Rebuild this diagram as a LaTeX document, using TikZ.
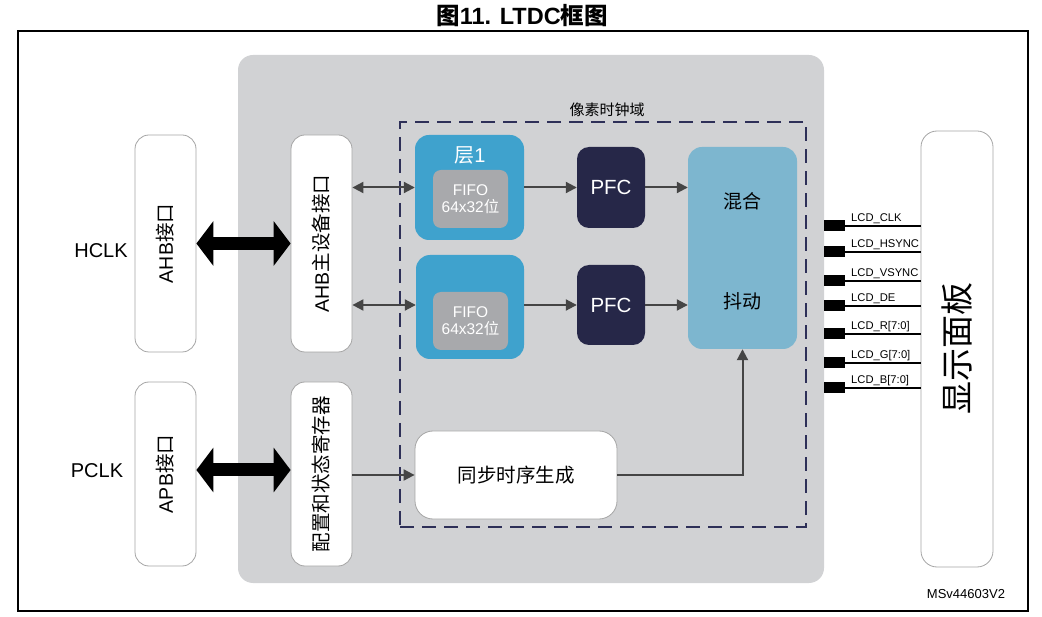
\documentclass[tikz,border=0pt]{standalone}
\usepackage{fontspec}
\setmainfont{Liberation Sans}
\newfontfamily\cjk{Noto Sans CJK SC}
\usetikzlibrary{arrows.meta}
\definecolor{bggray}{HTML}{D1D2D4}
\definecolor{navy}{HTML}{262748}
\definecolor{dashnavy}{HTML}{2E3058}
\definecolor{layblue}{HTML}{3FA2CD}
\definecolor{mixblue}{HTML}{7DB6CF}
\definecolor{fifogray}{HTML}{A8A9AC}
\definecolor{arrgray}{HTML}{454545}
\definecolor{bordergray}{HTML}{A5A5A5}
\newcommand{\fs}[1]{\fontsize{#1}{#1}\selectfont}
\tikzset{
  box/.style={draw=bordergray, line width=0.8, fill=white, rounded corners=14, inner sep=0},
  laybox/.style={fill=layblue, rounded corners=14, inner sep=0},
  fifobox/.style={fill=fifogray, rounded corners=8, inner sep=0, text=white, align=center, font=\fs{15.5}},
  pfcbox/.style={fill=navy, rounded corners=12, inner sep=0, text=white, font=\fs{20.5}},
  arr/.style={draw=arrgray, line width=2, -{Triangle[length=11,width=11]}},
  darr/.style={draw=arrgray, line width=2, {Triangle[length=11,width=11]}-{Triangle[length=11,width=11]}},
  fat/.style={draw=black, line width=13, {Triangle[length=17,width=44]}-{Triangle[length=17,width=44]}},
  lbl/.style={font=\fs{19.5}, inner sep=0},
  sig/.style={font=\fs{11.2}, inner sep=0, anchor=base west}
}
\begin{document}
\begin{tikzpicture}[x=1pt,y=-1pt]
\useasboundingbox (0,0) rectangle (1042,617);
% title and frame
\node[font=\bfseries\fs{23.5}, inner sep=0] (title) at (522,16) {{\cjk\bfseries 图}11. LTDC{\cjk\bfseries 框图}};
\node[draw=black, line width=1.2, minimum width=1010, minimum height=580, inner sep=0] (frame) at (523,321) {};
% gray area
\node[fill=bggray, rounded corners=15, minimum width=586, minimum height=528, inner sep=0] (chip) at (531,319) {};
% dashed pixel clock domain
\node[draw=dashnavy, line width=2, dash pattern=on 14 off 8, minimum width=406, minimum height=405, inner sep=0] (dom) at (603,324.5) {};
\node[font=\cjk\fs{15}, inner sep=0] (domlbl) at (607,110) {像素时钟域};
% interfaces
\node[box, minimum width=61, minimum height=217] (ahb) at (165.5,243.5) {};
\node[lbl, rotate=90] (ahbt) at (ahb) {AHB{\cjk 接口}};
\node[box, minimum width=61, minimum height=184] (apb) at (165.5,474) {};
\node[lbl, rotate=90] (apbt) at (apb) {APB{\cjk 接口}};
\node[box, minimum width=61, minimum height=217] (ahbm) at (321.5,243.5) {};
\node[lbl, rotate=90] (ahbmt) at (ahbm) {AHB{\cjk 主设备接口}};
\node[box, minimum width=61, minimum height=184] (csr) at (321.5,474) {};
\node[lbl, rotate=90] (csrt) at (csr) {\cjk 配置和状态寄存器};
\node[font=\fs{20}, inner sep=0] (hclk) at (101,251) {HCLK};
\node[font=\fs{20}, inner sep=0] (pclk) at (97,471) {PCLK};
% layers
\node[laybox, minimum width=109, minimum height=105] (lay1) at (469.5,187.5) {};
\node[font=\fs{20}, text=white, inner sep=0] (lay1t) at (470,155) {{\cjk 层}1};
\node[fifobox, minimum width=75, minimum height=58] (fifo1) at (470.5,199) {FIFO\\[2pt]64x32{\cjk 位}};
\node[laybox, minimum width=108, minimum height=104] (lay2) at (470,307) {};
\node[fifobox, minimum width=75, minimum height=58] (fifo2) at (470.5,321) {FIFO\\[2pt]64x32{\cjk 位}};
% PFC
\node[pfcbox, minimum width=68, minimum height=81] (pfc1) at (611,187.5) {PFC};
\node[pfcbox, minimum width=68, minimum height=80] (pfc2) at (611,305) {PFC};
% blend
\node[fill=mixblue, rounded corners=14, minimum width=109, minimum height=202, inner sep=0] (blend) at (742.5,248) {};
\node[lbl, font=\cjk\fs{19}] (mix) at (742.5,201) {混合};
\node[lbl, font=\cjk\fs{19}] (dither) at (742.5,301) {抖动};
% sync
\node[box, rounded corners=18, minimum width=202, minimum height=88] (sync) at (516,475) {};
\node[lbl, font=\cjk\fs{19.5}] (synct) at (sync) {同步时序生成};
% panel
\node[box, rounded corners=16, minimum width=72, minimum height=436] (panel) at (957,349) {};
\node[font=\cjk\fs{33}, rotate=90, inner sep=0] (panelt) at (panel) {显示面板};
% fat bus arrows
\draw[fat] (ahb.east) -- (ahbm.west);
\draw[fat] (apb.east |- 0,470) -- (csr.west |- 0,470);
% internal arrows
\draw[darr] (ahbm.east |- lay1.west) -- (lay1.west);
\draw[darr] (ahbm.east |- pfc2.west) -- (lay2.west |- pfc2.west);
\draw[arr] (lay1.east) -- (pfc1.west);
\draw[arr] (lay2.east |- pfc2.west) -- (pfc2.west);
\draw[arr] (pfc1.east) -- (blend.west |- pfc1.east);
\draw[arr] (pfc2.east) -- (blend.west |- pfc2.east);
\draw[arr] (csr.east |- sync.west) -- (sync.west);
\draw[arr] (sync.east) -| (blend.south);
% LCD signals
\foreach \y/\t [count=\i] in {226/LCD\_CLK, 252/LCD\_HSYNC, 281/LCD\_VSYNC, 306/LCD\_DE, 334/LCD\_R[7:0], 363/LCD\_G[7:0], 388/LCD\_B[7:0]} {
  \coordinate (s\i) at (845,\y);
  \fill[black] (824,\y-6) rectangle (s\i |- 0,\y+5);
  \draw[black, line width=2.5] (s\i) -- (s\i -| panel.west);
  \node[sig] (t\i) at (851,\y-4) {\t};
}
\node[font=\fs{13}, inner sep=0] (ref) at (966,594) {MSv44603V2};
\end{tikzpicture}
\end{document}
